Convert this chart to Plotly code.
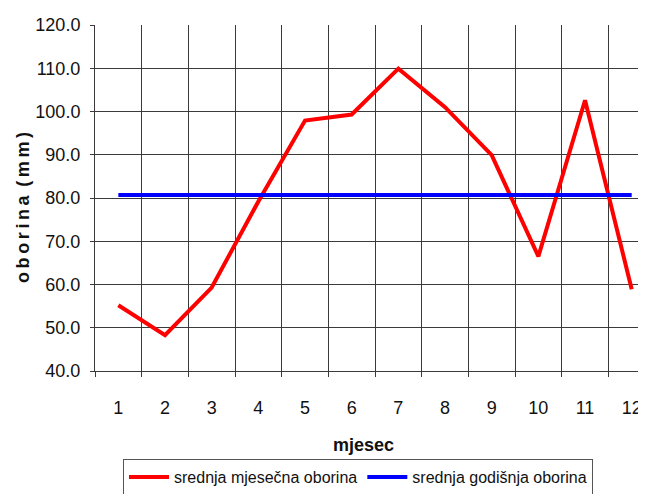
import plotly.graph_objects as go

months = [1, 2, 3, 4, 5, 6, 7, 8, 9, 10, 11, 12]
month_labels = ["1", "2", "3", "4", "5", "6", "7", "8", "9", "10", "11", "12"]
monthly_precip = [55.2, 48.3, 59.3, 79.2, 97.9, 99.3, 109.9, 101.0, 89.9, 66.5, 102.6, 58.9]
annual_mean = [80.7] * 12

series_names = ["srednja mjesečna oborina", "srednja godišnja oborina"]

FONT = "Liberation Sans, Arial, sans-serif"
GRID = "#3a3a3a"

fig = go.Figure()
fig.add_trace(go.Scatter(x=months, y=monthly_precip, mode="lines", name=series_names[0],
                         line=dict(color="#ff0000", width=4)))
fig.add_trace(go.Scatter(x=months, y=annual_mean, mode="lines", name=series_names[1],
                         line=dict(color="#0000ff", width=4)))

# page body has an 8px default margin: work in screen pixels, offset by 8
OFF = 8
W, H = 646 - OFF, 494 - OFF
L, T = 95 - OFF, 25 - OFF
PLOT_BOTTOM = 371 - OFF
B = H - PLOT_BOTTOM
R = 0
pw = W - L - R
ph = H - T - B
step = 46.67
x_hi = 0.5 + pw / step

def px_x(px):
    return (px - OFF - L) / pw

def px_y(py):
    return (PLOT_BOTTOM - (py - OFF)) / ph

fig.update_layout(
    width=W, height=H,
    margin=dict(l=L, r=R, t=T, b=B, pad=0, autoexpand=False),
    paper_bgcolor="white", plot_bgcolor="white",
    font=dict(family=FONT, color="#111111", size=17),
    showlegend=True,
    legend=dict(orientation="h", x=px_x(123), xanchor="left", y=px_y(459), yanchor="top",
                bordercolor="#555555", borderwidth=1, bgcolor="white",
                font=dict(family=FONT, size=16, color="#111111"),
                itemwidth=40, tracegroupgap=0),
    xaxis=dict(
        range=[0.5, x_hi], tickmode="array", tickvals=months, ticktext=month_labels,
        showgrid=False, ticks="", ticklabelstandoff=20, zeroline=False, automargin=False,
        showline=True, linecolor=GRID, linewidth=1,
        tickfont=dict(size=18, family=FONT),
        minor=dict(tickmode="linear", tick0=0.5, dtick=1, showgrid=True, gridcolor=GRID,
                   gridwidth=1, ticks="outside", ticklen=5, tickcolor=GRID, tickwidth=1),
    ),
    yaxis=dict(
        range=[40, 120], dtick=10, tick0=40, tickformat=".1f", automargin=False,
        showgrid=True, gridcolor=GRID, gridwidth=1,
        ticks="outside", ticklen=4, tickcolor=GRID, ticklabelstandoff=6,
        showline=True, linecolor=GRID, linewidth=1, zeroline=False,
        tickfont=dict(size=18, family=FONT),
    ),
    annotations=[
        dict(text="<b>mjesec</b>", xref="paper", yref="paper",
             x=px_x(363), y=px_y(445), xanchor="center", yanchor="middle", showarrow=False,
             font=dict(size=18, family=FONT, color="#111111")),
        dict(text="<b>o\u2009b\u2009o\u2009r\u2009i\u2009n\u2009a\u2009 (\u2009m\u2009m\u2009)</b>",
             xref="paper", yref="paper", x=px_x(23), y=px_y(208), xanchor="center", yanchor="middle",
             textangle=-90, showarrow=False, font=dict(size=18, family=FONT, color="#111111")),
    ],
)

fig.write_html("out.html")
